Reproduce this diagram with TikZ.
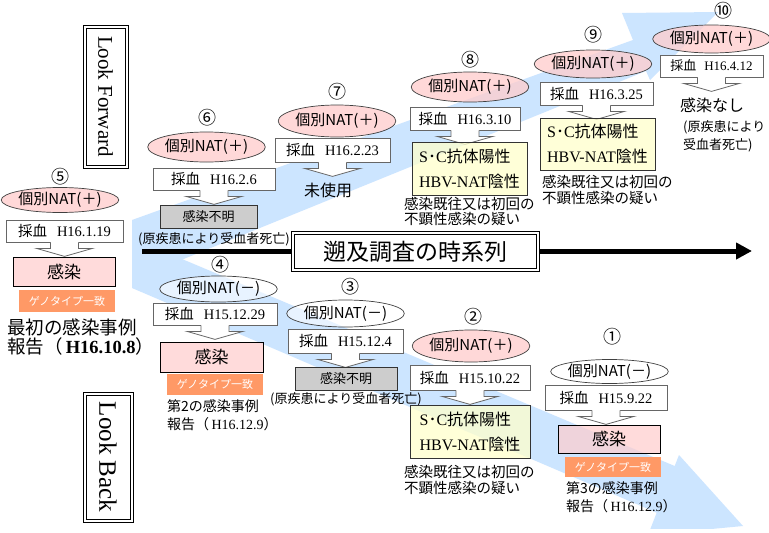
\documentclass[tikz,border=0pt]{standalone}
\usepackage{fontspec}
\setmainfont{Liberation Serif}
\newfontfamily\jp{Noto Sans CJK JP}
\usetikzlibrary{shapes.geometric,arrows.meta,calc}
\definecolor{pinkc}{RGB}{255,204,204}
\definecolor{orangec}{RGB}{255,153,102}
\definecolor{yellowc}{RGB}{255,255,204}
\definecolor{grayc}{RGB}{205,205,205}
\definecolor{bluec}{RGB}{204,229,255}
\newcommand\callout[1]{%
  \fill[white] ($(#1.south)+(-14,-1)$) -- ++(0,7) -- ++(-14,0) -- ($(#1.south)+(0,14)$) -- ++(28,-8) -- ++(-14,0) -- ++(0,-7) -- cycle;
  \draw[cline] ($(#1.south)+(-14,0)$) -- ++(0,6) -- ++(-14,0) -- ($(#1.south)+(0,14)$) -- ++(28,-8) -- ++(-14,0) -- ++(0,-6);
}
\begin{document}
\begin{tikzpicture}[x=1pt,y=-1pt,
  every node/.style={inner sep=0pt},
  num/.style={font=\jp\fontsize{18}{18}\selectfont},
  ellp/.style={ellipse, draw=black!75, line width=0.7pt, fill=pinkc, fill opacity=0.75, text opacity=1, font=\jp\fontsize{15}{15}\selectfont},
  ellw/.style={ellp, fill=white, fill opacity=0.55},
  sbox/.style={rectangle, draw=black!60, line width=0.8pt, fill=white, font=\fontsize{14.5}{14.5}\selectfont},
  cline/.style={draw=black!60, line width=0.8pt, line join=miter},
  infbox/.style={rectangle, draw=black, line width=0.7pt, fill=pinkc, fill opacity=0.7, text opacity=1, font=\jp\fontsize{17}{17}\selectfont},
  geno/.style={rectangle, fill=orangec, text=white, font=\jp\fontsize{11}{11}\selectfont},
  unk/.style={rectangle, draw=black!80, line width=0.6pt, fill=grayc, font=\jp\fontsize{13}{13}\selectfont},
  scbox/.style={rectangle, draw=black!80, line width=0.7pt, fill=yellowc, fill opacity=0.75, text opacity=1, align=left, font=\fontsize{16}{25}\selectfont},
  note/.style={font=\jp\fontsize{13}{13}\selectfont},
  rep/.style={anchor=north west, align=left, font=\jp\fontsize{14}{18}\selectfont},
  dbl/.style={draw=black, double=white, double distance=1.5pt, line width=0.7pt, fill=white}
]
\useasboundingbox (0,0) rectangle (769,533);
\fill[white] (0,0) rectangle (769,533);

% big light-blue arrows
\fill[bluec] (132,220) -- (633,40) -- (622,13) -- (718,12) -- (650,80) -- (646,71) -- (132,280) -- cycle;
\begin{scope}
  \clip (0,0) rectangle (769,528);
  \fill[bluec] (132,238) -- (674.7,466) -- (679,455) -- (743,526) -- (648,535) -- (656.7,512.7) -- (132,288) -- cycle;
\end{scope}

% time line
\coordinate (t0) at (142,251);
\coordinate (t1) at (752,251);
\draw[line width=5pt, -{Triangle[length=16pt,width=16pt]}] (t0) -- (t1);
\node[dbl, line width=0.8pt, double distance=1.6pt, minimum width=245, minimum height=37, font=\jp\fontsize{23}{23}\selectfont] (title) at (415.5,251.5) {遡及調査の時系列};

% Look Forward / Look Back
\draw[black, line width=0.8pt] (83,25) rectangle (128,168);
\draw[black, line width=0.8pt] (86,28) rectangle (125,165);
\node[rotate=-90, font=\fontsize{21}{21}\selectfont] (lf) at (105.5,96.5) {Look Forward};
\draw[black, line width=0.8pt] (83,392) rectangle (133,522);
\draw[black, line width=0.8pt] (86,395) rectangle (130,519);
\node[rotate=-90, font=\fontsize{25}{25}\selectfont] (lb) at (108,457) {Look Back};

% 5
\node[num] (n5) at (60,177) {⑤};
\node[ellp, minimum width=109, minimum height=25] (e5) at (60,200) {個別NAT(＋)};
\node[sbox, minimum width=117, minimum height=22] (s5) at (64.5,231) {{\jp 採血}\hspace{10pt}H16.1.19};
\callout{s5}
\node[infbox, minimum width=102, minimum height=29] (k5) at (64,271.5) {感染};
\node[geno, minimum width=96, minimum height=22] (g5) at (67,301) {ゲノタイプ一致};
\node[rep, font=\jp\fontsize{18.5}{19}\selectfont] (r5) at (7,319) {最初の感染事例\\報告（{\rmfamily\bfseries\,H16.10.8}）};

% 6
\node[num] (n6) at (207,118) {⑥};
\node[ellp, minimum width=107, minimum height=30] (e6) at (206.5,147) {個別NAT(＋)};
\node[sbox, minimum width=122, minimum height=22] (s6) at (214,179) {{\jp 採血}\hspace{10pt}H16.2.6};
\callout{s6}
\node[unk, minimum width=97, minimum height=23] (u6) at (208.5,216.5) {感染不明};
\node[note] (d6) at (214,239) {(原疾患により受血者死亡)};

% 7
\node[num] (n7) at (337,92) {⑦};
\node[ellp, minimum width=110, minimum height=32] (e7) at (337,121) {個別NAT(＋)};
\node[sbox, minimum width=115, minimum height=24] (s7) at (332.5,150) {{\jp 採血}\hspace{10pt}H16.2.23};
\callout{s7}
\node[font=\jp\fontsize{16}{16}\selectfont] (m7) at (328,190) {未使用};

% 8
\node[num] (n8) at (470,60) {⑧};
\node[ellp, minimum width=105, minimum height=30] (e8) at (470,87) {個別NAT(＋)};
\node[sbox, minimum width=110, minimum height=23] (s8) at (465,118.5) {{\jp 採血}\hspace{10pt}H16.3.10};
\callout{s8}
\node[scbox, minimum width=115, minimum height=53] (c8) at (469.5,168.5) {S{\jp ･}C{\jp 抗体陽性}\\HBV-NAT{\jp 陰性}};
\node[rep, font=\jp\fontsize{14.5}{15.5}\selectfont] (x8) at (404,197) {感染既往又は初回の\\不顕性感染の疑い};

% 9
\node[num] (n9) at (593,35) {⑨};
\node[ellp, minimum width=110, minimum height=28] (e9) at (593,64) {個別NAT(＋)};
\node[sbox, minimum width=113, minimum height=23] (s9) at (596.5,93.5) {{\jp 採血}\hspace{10pt}H16.3.25};
\callout{s9}
\node[scbox, minimum width=115, minimum height=52] (c9) at (597.5,144) {S{\jp ･}C{\jp 抗体陽性}\\HBV-NAT{\jp 陰性}};
\node[rep, font=\jp\fontsize{14.5}{16}\selectfont] (x9) at (542,175) {感染既往又は初回の\\不顕性感染の疑い};

% 10
\node[num] (n10) at (723,11) {⑩};
\node[ellp, minimum width=103, minimum height=28] (e10) at (711.5,39) {個別NAT(＋)};
\node[sbox, minimum width=103, minimum height=22, font=\fontsize{13}{13}\selectfont] (s10) at (711.5,66) {{\jp 採血}\hspace{8pt}H16.4.12};
\callout{s10}
\node[font=\jp\fontsize{16}{16}\selectfont] (m10) at (712,105) {感染なし};
\node[rep, font=\jp\fontsize{13}{18}\selectfont] (x10) at (683,120) {(原疾患により\\受血者死亡)};

% 4
\node[num] (n4) at (220,265) {④};
\node[ellw, minimum width=117, minimum height=26] (e4) at (218.5,289) {個別NAT(－)};
\node[sbox, minimum width=124, minimum height=22] (s4) at (215,314) {{\jp 採血}\hspace{10pt}H15.12.29};
\callout{s4}
\node[infbox, minimum width=103, minimum height=30] (k4) at (211.5,357) {感染};
\node[geno, minimum width=96, minimum height=21] (g4) at (215,384.5) {ゲノタイプ一致};
\node[rep] (r4) at (167,399) {第2の感染事例\\報告（{\rmfamily\,H16.12.9}）};

% 3
\node[num] (n3) at (350,287) {③};
\node[ellw, minimum width=115, minimum height=27] (e3) at (345.5,313.5) {個別NAT(－)};
\node[sbox, minimum width=115, minimum height=24] (s3) at (345.5,341) {{\jp 採血}\hspace{10pt}H15.12.4};
\callout{s3}
\node[unk, minimum width=102, minimum height=23] (u3) at (346,378.5) {感染不明};
\node[note] (d3) at (346,399) {(原疾患により受血者死亡)};

% 2
\node[num] (n2) at (473,317) {②};
\node[ellp, minimum width=108, minimum height=32] (e2) at (471,346) {個別NAT(＋)};
\node[sbox, minimum width=120, minimum height=25] (s2) at (470,377.5) {{\jp 採血}\hspace{10pt}H15.10.22};
\callout{s2}
\node[scbox, minimum width=120, minimum height=53] (c2) at (470,431.5) {S{\jp ･}C{\jp 抗体陽性}\\HBV-NAT{\jp 陰性}};
\node[rep, font=\jp\fontsize{14.5}{16}\selectfont] (x2) at (404,465) {感染既往又は初回の\\不顕性感染の疑い};

% 1
\node[num] (n1) at (612,337) {①};
\node[ellw, minimum width=115, minimum height=24] (e1) at (609.5,371.5) {個別NAT(－)};
\node[sbox, minimum width=122, minimum height=25] (s1) at (606,397.5) {{\jp 採血}\hspace{10pt}H15.9.22};
\callout{s1}
\node[infbox, minimum width=102, minimum height=28] (k1) at (609,439) {感染};
\node[geno, minimum width=96, minimum height=20] (g1) at (613,467) {ゲノタイプ一致};
\node[rep] (r1) at (566,481) {第3の感染事例\\報告（{\rmfamily\,H16.12.9}）};
\end{tikzpicture}
\end{document}
